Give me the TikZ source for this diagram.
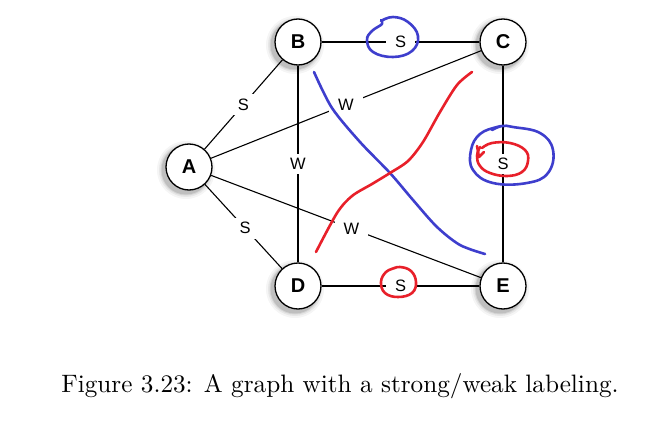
\documentclass[tikz,border=0pt]{standalone}
\usepackage{fontspec}
\newfontfamily\arialf{Liberation Sans}
\usetikzlibrary{backgrounds}
\definecolor{bluepen}{RGB}{62,62,205}
\definecolor{redpen}{RGB}{232,32,42}
\tikzset{
  vtx/.style={circle, draw=black, line width=1.3pt, fill=white, minimum size=46pt, inner sep=0pt,
    font=\fontsize{20}{20}\selectfont\arialf\bfseries},
  lbl/.style={fill=white, inner xsep=9pt, inner ysep=4.5pt, font=\fontsize{16.5}{16.5}\selectfont\arialf},
  edge/.style={line width=1.1pt, draw=black},
  pen/.style={line width=2.6pt, line cap=round, line join=round},
}
\begin{document}
\begin{tikzpicture}[x=1pt,y=-1pt]
\useasboundingbox (0,0) rectangle (656,428);
\node[vtx] (A) at (189,167) {A};
\node[vtx] (B) at (298,42) {B};
\node[vtx] (C) at (503,42) {C};
\node[vtx] (D) at (298,286) {D};
\node[vtx] (E) at (503,286) {E};
\begin{scope}[on background layer]
  \foreach \n in {A,B,C,D,E}{
    \foreach \r/\o in {29/0.04,27/0.06,25.5/0.08,24.5/0.1}{
      \fill[black, opacity=\o] ([xshift=-3pt,yshift=-3pt]\n.center) circle (\r pt);
    }
  }
  \draw[edge] (A) -- node[lbl, pos=0.5]{S} (B);
  \draw[edge] (A) -- node[lbl, pos=0.5]{W} (C);
  \draw[edge] (A) -- node[lbl, pos=0.52]{S} (D);
  \draw[edge] (A) -- node[lbl, pos=0.52]{W} (E);
  \draw[edge] (B) -- node[lbl]{S} (C);
  \draw[edge] (B) -- node[lbl]{W} (D);
  \draw[edge] (C) -- node[lbl]{S} (E);
  \draw[edge] (D) -- node[lbl]{S} (E);
\end{scope}
% hand-drawn strokes
\draw[pen, bluepen] plot[smooth, tension=0.5] coordinates {(314,72) (332,108) (360,142) (390,173) (413,200) (437,227) (460,245) (485,254)};
\draw[pen, redpen] plot[smooth, tension=0.5] coordinates {(316,252) (337,213) (352,196) (372,184) (390,173) (408,161) (423,142) (440,112) (457,85) (472,72)};
\draw[pen, bluepen] plot[smooth, tension=0.7] coordinates {(381,20) (382,24) (372,31) (367,40) (373,52) (393,57) (412,51) (418,36) (408,22) (393,17) (381,21)};
\draw[pen, bluepen] plot[smooth, tension=0.7] coordinates {(492,130) (502,126) (513,127) (540,133) (553,150) (548,173) (527,183) (493,183) (473,170) (471,150) (480,134) (497,127) (505,126)};
\draw[pen, redpen] plot[smooth, tension=0.7] coordinates {(482,148) (492,143) (510,143) (525,150) (528,161) (522,172) (507,176) (490,173) (480,166) (477,156) (480,147)};
\draw[pen, redpen] (477,146) -- (479,157) -- (484,152);
\draw[pen, redpen] plot[smooth, tension=0.7] coordinates {(395,268) (386,272) (381,282) (385,293) (398,297) (412,293) (416,282) (411,271) (400,267) (392,269)};
\node[anchor=base] (cap) at (340,392) {\scalebox{2.52}{\fontsize{10}{12}\selectfont Figure 3.23: A graph with a strong/weak labeling.}};
\end{tikzpicture}
\end{document}
